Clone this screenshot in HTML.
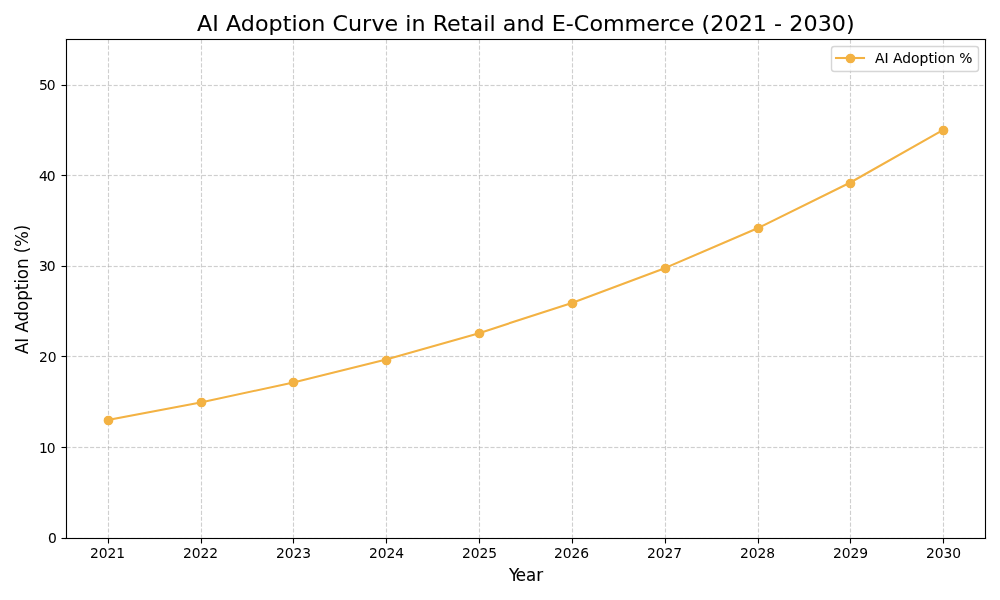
<!DOCTYPE html>
<html lang="en"><head><meta charset="utf-8"><title>AI Adoption Curve in Retail and E-Commerce (2021 - 2030)</title>
<style>
html,body{margin:0;padding:0;background:#fff;overflow:hidden}
svg{display:block;position:absolute;left:0;top:0}
text{font-family:"DejaVu Sans","Liberation Sans",sans-serif;fill:#000}
.t10{font-size:13.889px}.t12{font-size:16.667px}.t16{font-size:22.222px}
.grid line{stroke:#b0b0b0;stroke-opacity:.61;stroke-width:1.111;stroke-dasharray:4.111 1.778}
.grid line.aa{stroke-opacity:.05;stroke-width:1}
.tick line,.spine line{stroke:#000;stroke-width:1.111}
.spine line{stroke-linecap:square}
.series polyline,.series line{fill:none;stroke:#f3b243;stroke-width:2.083;stroke-linecap:square;stroke-linejoin:round}
.series circle{fill:#f3b243;stroke:#f3b243;stroke-width:1.389}
</style></head>
<body>
<svg width="1000" height="600" viewBox="0 0 1000 600" role="img" aria-label="AI Adoption Curve chart">
<rect x="0" y="0" width="1000" height="600" fill="#fff"/>
<defs><clipPath id="ax"><rect x="65.903" y="39.333" width="919.097" height="498.389"/></clipPath></defs>
<g class="grid" clip-path="url(#ax)">
<line x1="108.5" y1="538.5" x2="108.5" y2="37.5"/>
<line x1="201.5" y1="538.5" x2="201.5" y2="37.5"/>
<line x1="293.5" y1="538.5" x2="293.5" y2="37.5"/>
<line x1="386.5" y1="538.5" x2="386.5" y2="37.5"/>
<line x1="479.5" y1="538.5" x2="479.5" y2="37.5"/>
<line x1="572.5" y1="538.5" x2="572.5" y2="37.5"/>
<line x1="665.5" y1="538.5" x2="665.5" y2="37.5"/>
<line x1="758.5" y1="538.5" x2="758.5" y2="37.5"/>
<line x1="850.5" y1="538.5" x2="850.5" y2="37.5"/>
<line x1="943.5" y1="538.5" x2="943.5" y2="37.5"/>
<line x1="66.5" y1="538.5" x2="987.5" y2="538.5"/>
<line class="aa" x1="66.5" y1="537.5" x2="987.5" y2="537.5"/>
<line class="aa" x1="66.5" y1="539.5" x2="987.5" y2="539.5"/>
<line x1="66.5" y1="447.5" x2="987.5" y2="447.5"/>
<line class="aa" x1="66.5" y1="446.5" x2="987.5" y2="446.5"/>
<line class="aa" x1="66.5" y1="448.5" x2="987.5" y2="448.5"/>
<line x1="66.5" y1="356.5" x2="987.5" y2="356.5"/>
<line class="aa" x1="66.5" y1="355.5" x2="987.5" y2="355.5"/>
<line class="aa" x1="66.5" y1="357.5" x2="987.5" y2="357.5"/>
<line x1="66.5" y1="266.5" x2="987.5" y2="266.5"/>
<line class="aa" x1="66.5" y1="265.5" x2="987.5" y2="265.5"/>
<line class="aa" x1="66.5" y1="267.5" x2="987.5" y2="267.5"/>
<line x1="66.5" y1="175.5" x2="987.5" y2="175.5"/>
<line class="aa" x1="66.5" y1="174.5" x2="987.5" y2="174.5"/>
<line class="aa" x1="66.5" y1="176.5" x2="987.5" y2="176.5"/>
<line x1="66.5" y1="85.5" x2="987.5" y2="85.5"/>
<line class="aa" x1="66.5" y1="84.5" x2="987.5" y2="84.5"/>
<line class="aa" x1="66.5" y1="86.5" x2="987.5" y2="86.5"/>
</g>
<g class="tick">
<line x1="108.5" y1="538.50" x2="108.5" y2="543.50"/>
<line x1="201.5" y1="538.50" x2="201.5" y2="543.50"/>
<line x1="293.5" y1="538.50" x2="293.5" y2="543.50"/>
<line x1="386.5" y1="538.50" x2="386.5" y2="543.50"/>
<line x1="479.5" y1="538.50" x2="479.5" y2="543.50"/>
<line x1="572.5" y1="538.50" x2="572.5" y2="543.50"/>
<line x1="665.5" y1="538.50" x2="665.5" y2="543.50"/>
<line x1="758.5" y1="538.50" x2="758.5" y2="543.50"/>
<line x1="850.5" y1="538.50" x2="850.5" y2="543.50"/>
<line x1="943.5" y1="538.50" x2="943.5" y2="543.50"/>
<line x1="61.50" y1="538.5" x2="66.50" y2="538.5"/>
<line x1="61.50" y1="447.5" x2="66.50" y2="447.5"/>
<line x1="61.50" y1="356.5" x2="66.50" y2="356.5"/>
<line x1="61.50" y1="266.5" x2="66.50" y2="266.5"/>
<line x1="61.50" y1="175.5" x2="66.50" y2="175.5"/>
<line x1="61.50" y1="85.5" x2="66.50" y2="85.5"/>
</g>
<text class="t10" transform="translate(90 557.748) scale(1 0.97)" x="0 8.75 17.5 26.25" y="0">2021</text>
<text class="t10" transform="translate(183 557.748) scale(1 0.97)" x="0 8.75 17.5 26.25" y="0">2022</text>
<text class="t10" transform="translate(276 557.748) scale(1 0.98)" x="0 8.75 17.5 26.25" y="0">2023</text>
<text class="t10" transform="translate(369 557.748) scale(1 0.97)" x="0 8.75 17.5 26.25" y="0">2024</text>
<text class="t10" transform="translate(462 557.748) scale(1 0.99)" x="0 8.75 17.5 26.25" y="0">2025</text>
<text class="t10" transform="translate(554 557.748) scale(1 0.99)" x="0 8.75 17.5 26.25" y="0">2026</text>
<text class="t10" transform="translate(647 557.748) scale(1 0.98)" x="0 8.75 17.5 26.25" y="0">2027</text>
<text class="t10" transform="translate(740 557.748) scale(1 0.98)" x="0 8.75 17.5 26.25" y="0">2028</text>
<text class="t10" transform="translate(833 557.748) scale(1 0.96)" x="0 8.75 17.5 26.25" y="0">2029</text>
<text class="t10" transform="translate(926 557.748) scale(1 0.98)" x="0 8.75 17.5 26.25" y="0">2030</text>
<text class="t10" transform="translate(47.875 543.249) scale(1 0.98)" stroke="#000" stroke-width="0.05" x="0" y="0">0</text>
<text class="t10" transform="translate(38.188 452.633) scale(1 0.98)" x="0.75 8.625" y="0">10</text>
<text class="t10" transform="translate(39 362.017) scale(1 0.98)" x="0 8.75" y="0">20</text>
<text class="t10" transform="translate(37.938 271.4) scale(1 0.98)" stroke="#000" stroke-width="0.05" x="1 8.75" y="0">30</text>
<text class="t10" transform="translate(38.062 180.784) scale(1 0.98)" stroke="#000" stroke-width="0.05" x="1 8.75" y="0">40</text>
<text class="t10" transform="translate(37.938 90.168) scale(1 0.98)" x="1 8.75" y="0">50</text>
<text class="t12" transform="translate(508.131 580.606) scale(1 1.01)" stroke="#000" stroke-width="0.1" x="0.75 7.625 17.875 28.125" y="0">Year</text>
<text class="t12" transform="translate(28.485 354.003) rotate(-90) scale(1 1.01)" x="0 11.375 16.25 21.5 32.625 43.125 53.25 63.75 70.5 74.875 85 95.5 100.75 107.125 122.75" y="0">AI Adoption (%)</text>
<g class="series" clip-path="url(#ax)">
<polyline points="107.68,419.92 200.52,402.49 293.36,382.49 386.19,359.52 479.03,333.16 571.87,302.90 664.71,268.16 757.55,228.28 850.38,182.50 943.22,129.95"/>
<circle cx="108.5" cy="420.5" r="4.167"/>
<circle cx="201.5" cy="402.5" r="4.167"/>
<circle cx="293.5" cy="382.5" r="4.167"/>
<circle cx="386.5" cy="360.5" r="4.167"/>
<circle cx="479.5" cy="333.5" r="4.167"/>
<circle cx="572.5" cy="303.5" r="4.167"/>
<circle cx="665.5" cy="268.5" r="4.167"/>
<circle cx="758.5" cy="228.5" r="4.167"/>
<circle cx="850.5" cy="183.5" r="4.167"/>
<circle cx="943.5" cy="130.5" r="4.167"/>
</g>
<g class="spine">
<line x1="66.5" y1="538.5" x2="66.5" y2="39.5"/>
<line x1="985.5" y1="538.5" x2="985.5" y2="39.5"/>
<line x1="66.5" y1="538.5" x2="985.5" y2="538.5"/>
<line x1="66.5" y1="39.5" x2="985.5" y2="39.5"/>
</g>
<g fill="#000" fill-opacity=".055">
<rect x="65" y="38" width="922" height="1"/>
<rect x="65" y="40" width="922" height="1"/>
<rect x="65" y="537" width="922" height="1"/>
<rect x="65" y="539" width="922" height="1"/>
</g>
<text class="t16" transform="translate(197.1 30.5) scale(1 0.98)" stroke="#000" stroke-width="0.05" x="0 15.25 21.75 28.875 43.75 57.875 71.5 85.625 94.375 100.625 114.25 128.375 135.5 151 164.875 174.375 187.5 201.125 208.25 214.5 228.625 235.75 249.875 263.75 272.5 286.125 292.375 298.625 305.75 319.375 333.5 347.625 354.75 368.75 376.625 392.375 406 427.375 449.25 462.625 471.5 483.625 497.5 504.375 513.25 527.375 541.625 555.75 569.875 577 585.125 592.25 606.375 620.625 634.75 649" y="0">AI Adoption Curve in Retail and E-Commerce (2021 - 2030)</text>
<path d="M 834.28 71.50 L 975.72 71.50 Q 978.50 71.50 978.50 68.72 L 978.50 49.28 Q 978.50 46.50 975.72 46.50 L 834.28 46.50 Q 831.50 46.50 831.50 49.28 L 831.50 68.72 Q 831.50 71.50 834.28 71.50 Z" fill="#fff" stroke="#ccc" stroke-width="1.389" stroke-linejoin="miter" opacity=".8"/>
<g class="series">
<line x1="836" y1="58" x2="864" y2="58"/>
<circle cx="850.5" cy="58.5" r="4.167"/>
</g>
<text class="t10" transform="translate(875.1 62.697) scale(1 0.97)" stroke="#000" stroke-width="0.05" x="0 9.5 13.5 17.875 27.125 36 44.5 53.375 58.625 62.75 71.25 80 84.125" y="0">AI Adoption %</text>
</svg>
</body></html>
